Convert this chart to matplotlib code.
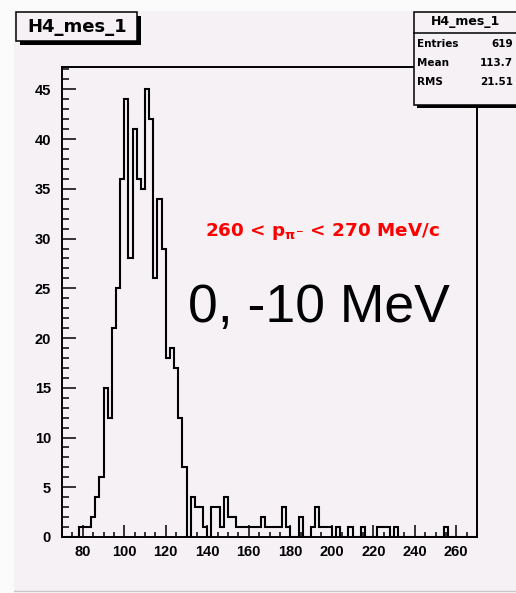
import numpy as np
import matplotlib.pyplot as plt
from matplotlib.patches import Rectangle
from matplotlib.ticker import MultipleLocator

# H4_mes_1 : 100 bins of 2 MeV/c between 70 and 270
bin_edges = np.arange(70, 272, 2)
counts = [
    0, 0, 0, 0, 1, 1, 1, 2, 4, 6,            # 70 - 88
    15, 12, 21, 25, 36, 44, 28, 41, 36, 35,  # 90 - 108
    45, 42, 26, 34, 29, 18, 19, 17, 12, 7,   # 110 - 128
    0, 4, 3, 3, 1, 0, 3, 3, 1, 4,            # 130 - 148
    2, 2, 1, 1, 1, 1, 1, 1, 2, 1,            # 150 - 168
    1, 1, 1, 3, 1, 0, 0, 2, 0, 0,            # 170 - 188
    1, 3, 1, 1, 1, 0, 1, 0, 0, 1,            # 190 - 208
    0, 0, 1, 0, 0, 0, 1, 1, 1, 0,            # 210 - 228
    1, 0, 0, 0, 0, 0, 0, 0, 0, 0,            # 230 - 248
    0, 0, 1, 0, 0, 0, 0, 0, 0, 0,            # 250 - 268
]

hist_name = "H4_mes_1"
stat_names = ["Entries", "Mean", "RMS"]
stat_values = ["619", "113.7", "21.51"]
cut_label = r"260 < p$_{\pi^{-}}$ < 270 MeV/c"
shift_label = "0, -10 MeV"

W, H = 516, 593
pad_col = "#f5f1f5"

plt.rcParams["mathtext.default"] = "bf"
plt.rcParams["mathtext.fontset"] = "dejavusans"

fig = plt.figure(figsize=(W / 100, H / 100), dpi=100)
fig.patch.set_facecolor("#fbfbfb")


# pixel -> figure fraction
def fx(px):
    return px / W


def fy(py):
    return 1 - py / H


def box(x0, y0, x1, y1, **kw):
    r = Rectangle((fx(x0), fy(y1)), (x1 - x0) / W, (y1 - y0) / H,
                  transform=fig.transFigure, clip_on=False, **kw)
    fig.add_artist(r)
    return r


# canvas pad
box(14, 11, 520, 591, facecolor=pad_col, edgecolor="none", zorder=-5)
fig.add_artist(plt.Line2D([fx(14), fx(516)], [fy(591), fy(591)],
                          transform=fig.transFigure, color="#c8c8c8", lw=1))

ax = fig.add_axes([fx(62), fy(537), (477 - 62) / W, (537 - 67) / H])
ax.set_facecolor(pad_col)
ax.stairs(counts, bin_edges, color="black", linewidth=1.5)
ax.set_xlim(70, 270)
ax.set_ylim(0, max(counts) * 1.05)

ax.xaxis.set_major_locator(MultipleLocator(20))
ax.xaxis.set_minor_locator(MultipleLocator(5))
ax.yaxis.set_major_locator(MultipleLocator(5))
ax.yaxis.set_minor_locator(MultipleLocator(1))
ax.tick_params(which="both", direction="in", top=False, right=False, width=1.1)
ax.tick_params(axis="x", which="major", length=8.5, pad=6)
ax.tick_params(axis="x", which="minor", length=3.6)
ax.tick_params(axis="y", which="major", length=10, pad=8)
ax.tick_params(axis="y", which="minor", length=5)
for lab in ax.get_xticklabels() + ax.get_yticklabels():
    lab.set_fontfamily("Liberation Sans")
    lab.set_fontweight("bold")
    lab.set_fontsize(10.5)
for s in ax.spines.values():
    s.set_linewidth(1.4)

# title box with shadow
box(20, 16, 141, 45, facecolor="black", edgecolor="none", zorder=3)
box(16, 12, 137, 41, facecolor=pad_col, edgecolor="black", lw=1.1, zorder=4)
fig.text(fx(77), fy(27), hist_name, ha="center", va="center",
         fontsize=13, family="DejaVu Sans", weight="bold", zorder=5)

# statistics box
box(417, 15, 530, 108, facecolor="black", edgecolor="none", zorder=3)
box(414, 12, 527, 105, facecolor=pad_col, edgecolor="black", lw=1.1, zorder=4)
fig.add_artist(plt.Line2D([fx(414), fx(527)], [fy(33), fy(33)],
                          transform=fig.transFigure, color="black", lw=1.1,
                          zorder=5))
fig.text(fx(465), fy(22), hist_name, ha="center", va="center", fontsize=9,
         family="DejaVu Sans", weight="bold", zorder=5)
for i, (n, v) in enumerate(zip(stat_names, stat_values)):
    yy = fy(44 + i * 19)
    fig.text(fx(417), yy, n, ha="left", va="center", fontsize=7.5,
             family="DejaVu Sans", weight="bold", zorder=5)
    fig.text(fx(513), yy, v, ha="right", va="center", fontsize=7.5,
             family="DejaVu Sans", weight="bold", zorder=5)

# annotations
fig.text(fx(205), fy(236), cut_label, ha="left", va="baseline", color="red",
         fontsize=13.2, family="DejaVu Sans", weight="bold")
fig.text(fx(188), fy(322), shift_label, ha="left", va="baseline",
         color="black", fontsize=38.5, family="Liberation Sans")

fig.savefig("out.png", dpi=100, facecolor=fig.get_facecolor())
